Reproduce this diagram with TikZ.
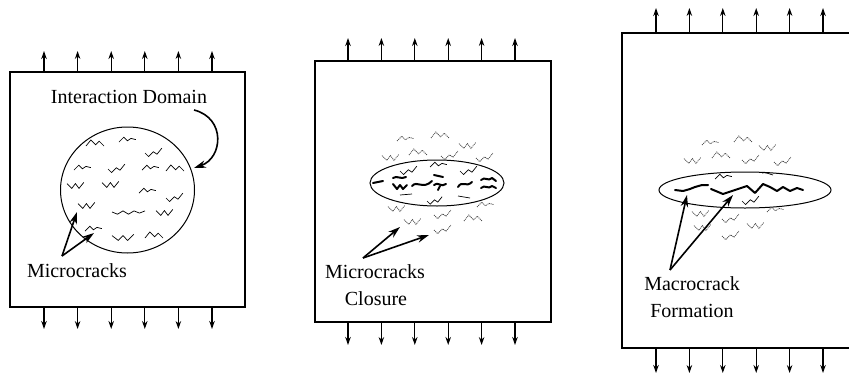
\documentclass[tikz,border=0pt]{standalone}
\usepackage{fontspec}
\setmainfont{Liberation Serif}
\usetikzlibrary{arrows.meta}
\tikzset{
  panel/.style={line width=2pt},
  force/.style={line width=1.2pt,-{Stealth[length=8pt,width=5.5pt]}},
  pointer/.style={line width=1.6pt,-{Stealth[length=12pt,width=7.5pt]}},
  crack/.style={line width=0.7pt,line join=miter},
  faint/.style={line width=0.8pt,dash pattern=on 1pt off 0.8pt,black!70},
  boldcrack/.style={line width=2pt,line cap=round,line join=round},
  lbl/.style={font=\fontsize{20}{25}\selectfont,inner sep=0pt,anchor=base},
  zA/.pic={\draw[scale=1.2] (0,0)--(4,-5)--(8,-1)--(11,-4)--(15,0);},
  zB/.pic={\draw[scale=1.2] (0,0)--(4,-4)--(7,-1)--(10,-3)--(14,-2);},
  zC/.pic={\draw[scale=1.2] (0,-2)--(4,2)--(7,-2)--(10,2)--(14,-3);},
  zD/.pic={\draw[scale=1.2] (0,0)--(3,3)--(7,-1)--(10,1)--(14,-4);},
  zE/.pic={\draw[scale=1.1] (0,0)--(5,2)--(10,-1)--(15,2)--(20,-1)--(25,1)--(30,-1);}
}
\begin{document}
\begin{tikzpicture}[x=1pt,y=-1pt]
\useasboundingbox (0,0) rectangle (849,378);

% ---------- Panel 1 ----------
\draw[panel] (10,72) rectangle (245,307);
\foreach \x in {44,77.6,111.2,144.8,178.4,212} {
  \draw[force] (\x,72) -- (\x,51);
  \draw[force] (\x,307) -- (\x,329);
}
\draw[line width=1pt] (127.5,190) ellipse [x radius=67, y radius=63];
\pic[crack] at (86,146) {zA};
\pic[crack] at (119,142) {zB};
\pic[crack] at (145,153) {zD};
\pic[crack] at (74,170) {zB};
\pic[crack] at (108,169) {zD};
\pic[crack] at (142,170) {zB};
\pic[crack] at (166,171) {zA};
\pic[crack] at (67,186) {zC};
\pic[crack] at (102,185) {zC};
\pic[crack] at (139,193) {zB};
\pic[crack] at (166,198) {zD};
\pic[crack] at (78,206) {zC};
\pic[crack] at (112,212) {zE};
\pic[crack] at (156,213) {zC};
\pic[crack] at (85,231) {zB};
\pic[crack,xscale=1.3] at (112,238) {zC};
\pic[crack] at (145,238) {zA};

\node[lbl] (id) at (129,103) {Interaction Domain};
\coordinate (idS) at (194,110);
\coordinate (idT) at (194,168);
\draw[pointer] (idS) .. controls (226,118) and (223,158) .. (idT);

\node[lbl] (mc1) at (77,277) {Microcracks};
\coordinate (mc1S) at (62,256);
\coordinate (mc1T1) at (77,212);
\coordinate (mc1T2) at (94,233);
\draw[pointer] (mc1S) -- (mc1T1);
\draw[pointer] (mc1S) -- (mc1T2);

% ---------- Panel 2 ----------
\draw[panel] (315,61) rectangle (551,322);
\foreach \x in {348,381.4,414.8,448.2,481.6,515} {
  \draw[force] (\x,61) -- (\x,38);
  \draw[force] (\x,322) -- (\x,345);
}
\draw[line width=1pt] (437,183) ellipse [x radius=67, y radius=23];
% faint cracks outside
\pic[faint] at (397,141) {zB};
\pic[faint] at (431,138) {zA};
\pic[faint] at (459,146) {zC};
\pic[faint] at (382,158) {zC};
\pic[faint] at (409,155) {zA};
\pic[faint] at (441,156) {zD};
\pic[faint] at (476,158) {zD};
\pic[faint] at (388,209) {zC};
\pic[faint] at (477,207) {zB};
\pic[faint] at (434,215) {zD};
\pic[faint] at (404,222) {zC};
\pic[faint] at (464,221) {zA};
\pic[faint] at (434,230) {zD};
% thin cracks inside
\pic[crack] at (400,171) {zD};
\pic[crack] at (430,167) {zB};
\pic[crack] at (460,171) {zD};
\draw[crack] (400,195) -- (412,194);
\pic[crack,scale=0.9] at (427,201) {zD};
\draw[crack] (458,196) -- (470,198);
% bold closing cracks
\draw[boldcrack] (373,183) -- (383,181);
\draw[boldcrack] (393,178) .. controls (397,175) and (401,180) .. (406,177);
\draw[boldcrack] (393,184) -- (397,189) -- (400,185) -- (403,189) -- (407,185);
\draw[boldcrack] (412,186) .. controls (417,180) and (423,190) .. (432,181);
\draw[boldcrack] (434,175) -- (443,177);
\draw[boldcrack] (434,185) .. controls (438,181) and (441,188) .. (446,184);
\draw[boldcrack] (440,186) -- (438,190);
\draw[boldcrack] (458,187) .. controls (462,180) and (466,188) .. (472,182);
\draw[boldcrack] (481,180) .. controls (485,176) and (488,182) .. (492,178) -- (496,181);
\draw[boldcrack] (481,188) .. controls (485,184) and (488,190) .. (492,186) -- (496,188);

\node[lbl] (mc2a) at (375,278) {Microcracks};
\node[lbl] (mc2b) at (376,305) {Closure};
\coordinate (mc2S) at (363,258);
\coordinate (mc2T1) at (400,227);
\coordinate (mc2T2) at (429,235);
\draw[pointer] (mc2S) -- (mc2T1);
\draw[pointer] (mc2S) -- (mc2T2);

% ---------- Panel 3 ----------
\draw[panel] (622,33) rectangle (857,348);
\foreach \x in {656,689.4,722.8,756.2,789.6,823} {
  \draw[force] (\x,33) -- (\x,8);
  \draw[force] (\x,348) -- (\x,373);
}
\draw[line width=1pt] (745,190) ellipse [x radius=86, y radius=18];
% faint cracks
\pic[faint] at (702,145) {zB};
\pic[faint] at (734,142) {zA};
\pic[faint] at (759,148) {zC};
\pic[faint] at (684,161) {zC};
\pic[faint] at (712,158) {zA};
\pic[faint] at (742,160) {zD};
\pic[faint] at (774,162) {zD};
\pic[faint] at (692,214) {zC};
\pic[faint] at (722,219) {zD};
\pic[faint] at (747,226) {zC};
\pic[faint] at (767,212) {zB};
\pic[faint] at (694,228) {zC};
\pic[faint] at (722,236) {zD};
% thin cracks inside
\pic[crack] at (715,179) {zB};
\draw[crack] (762,173) .. controls (766,172) and (769,174) .. (773,175);
\pic[crack] at (742,201) {zD};
% macrocrack
\draw[boldcrack] (675,190) -- (683,191) -- (690,189) -- (695,187) -- (702,185) -- (708,185);
\draw[boldcrack] (711,189) -- (723,194) -- (735,190) -- (747,186) -- (755,193) -- (763,184)
  -- (770,187) -- (777,191) -- (783,187) -- (790,191) -- (797,188) -- (803,190);

\node[lbl] (mf1) at (692,290) {Macrocrack};
\node[lbl] (mf2) at (692,317) {Formation};
\coordinate (mfS) at (670,270);
\coordinate (mfT1) at (687,195);
\coordinate (mfT2) at (733,195);
\draw[pointer] (mfS) -- (mfT1);
\draw[pointer] (mfS) -- (mfT2);
\end{tikzpicture}
\end{document}
